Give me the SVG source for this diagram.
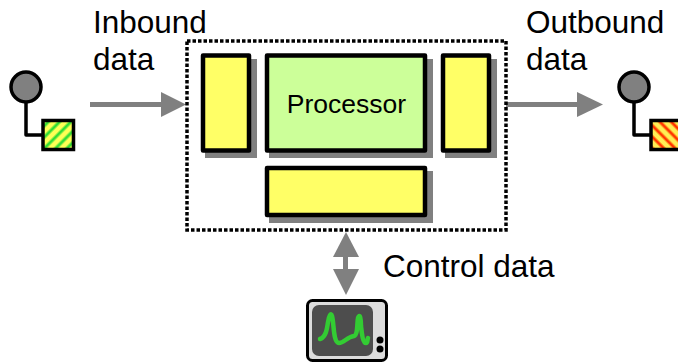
<svg xmlns="http://www.w3.org/2000/svg" width="678" height="362" viewBox="0 0 678 362">
<style>
text{font-family:"Liberation Sans",Arial,sans-serif;fill:#000}
.lbl{font-size:31.500px}
.shadow{fill:#808080}
.box{stroke:#000;stroke-width:4.500;stroke-linejoin:round}
.yellow{fill:#ffff66}
.person{fill:#808080;stroke:#000;stroke-width:3.500}
.stem{fill:none;stroke:#000;stroke-width:3.500;stroke-linejoin:round}
.arrow{fill:#808080;stroke:none}
</style>
<defs>
<pattern id="green" width="8" height="8" patternUnits="userSpaceOnUse" patternTransform="rotate(45 43 120)">
<rect width="8" height="8" fill="#33dd33"/><rect x="1" width="6" height="8" fill="#99ee44"/><rect x="2" width="4" height="8" fill="#ffff55"/>
</pattern>
<pattern id="red" width="8" height="8" patternUnits="userSpaceOnUse" patternTransform="rotate(-45 651 120)">
<rect width="8" height="8" fill="#ff3300"/><rect x="1" width="6" height="8" fill="#ff9922"/><rect x="2" width="4" height="8" fill="#ffee55"/>
</pattern>
</defs>
<g id="connectors">
<rect class="arrow" x="90" y="102" width="75" height="5"/>
<polygon class="arrow" points="161,92 186,104.500 161,117"/>
<rect class="arrow" x="506" y="102" width="74" height="5"/>
<polygon class="arrow" points="577,92 603,104.500 577,117"/>
<rect class="arrow" x="343" y="255" width="5" height="20"/>
<polygon class="arrow" points="346,232 333,257 359,257"/>
<polygon class="arrow" points="333,269 359,269 346,295"/>
</g>
<g id="inbound-endpoint">
<circle class="person" cx="26" cy="87" r="15"/>
<path class="stem" d="M26,102V135H44"/>
<rect x="43" y="120.500" width="30.500" height="29" fill="url(#green)" stroke="#000" stroke-width="3.500"/>
</g>
<g id="outbound-endpoint">
<circle class="person" cx="634" cy="87" r="15"/>
<path class="stem" d="M634,102V135H652"/>
<rect x="651" y="120.500" width="32" height="29" fill="url(#red)" stroke="#000" stroke-width="3.500"/>
</g>
<g id="container">
<rect x="187" y="41" width="319" height="189" fill="none" stroke="#000" stroke-width="3.500" stroke-dasharray="3.500 2"/>
</g>
<g id="left-queue">
<rect class="shadow" x="205" y="59" width="52" height="99"/>
<rect class="box yellow" x="203" y="55.500" width="46" height="95"/>
</g>
<g id="processor">
<rect class="shadow" x="269" y="59" width="164" height="99"/>
<rect class="box" fill="#ccff99" x="267" y="55.500" width="158" height="95"/>
<text x="346.500" y="113" font-size="26.500" text-anchor="middle">Processor</text>
</g>
<g id="right-queue">
<rect class="shadow" x="445" y="59" width="52" height="99"/>
<rect class="box yellow" x="443" y="55.500" width="46" height="95"/>
</g>
<g id="bottom-queue">
<rect class="shadow" x="269" y="171" width="164" height="52"/>
<rect class="box yellow" x="267" y="168" width="158" height="47"/>
</g>
<g id="monitor">
<rect x="307.500" y="300.500" width="79" height="60" rx="5" fill="#dcdcdc" stroke="#000" stroke-width="3"/>
<rect x="312" y="305" width="61" height="51" rx="7" fill="#4d4d4d"/>
<path d="M320,339C326,337 327,329 328,322C329,316 331,312 332,316C334,322 333,343 339,343C344,343 347,337 354,336C358,335 357,322 358,318C360,312 361,320 361,326C362,335 363,343 366,343C368,343 367,340 368,338" fill="none" stroke="#33cc33" stroke-width="4.500" stroke-linecap="round" stroke-linejoin="round"/>
<circle cx="380" cy="340" r="3.500" fill="#000"/>
<circle cx="380" cy="349" r="3.500" fill="#000"/>
</g>
<g id="labels">
<text class="lbl" x="93" y="33">Inbound</text>
<text class="lbl" x="93" y="70">data</text>
<text class="lbl" x="526" y="33">Outbound</text>
<text class="lbl" x="526" y="70">data</text>
<text class="lbl" x="383" y="277">Control data</text>
</g>
</svg>
